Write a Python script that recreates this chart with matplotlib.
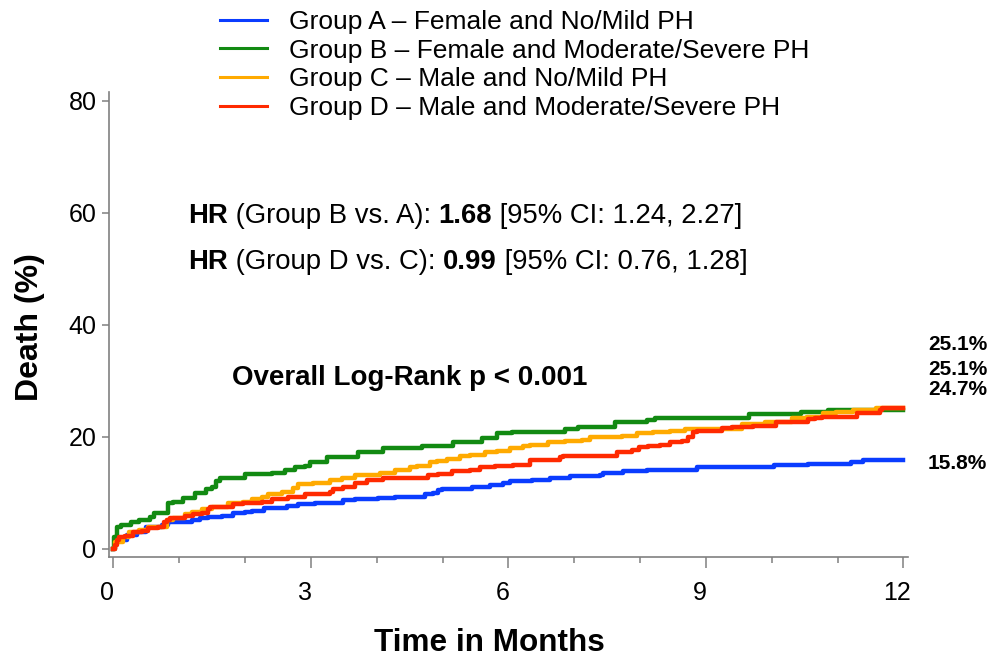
import matplotlib
matplotlib.use("Agg")
from matplotlib import pyplot as plt
from matplotlib import transforms

plt.rcParams['font.family'] = ['Liberation Sans', 'DejaVu Sans']

# cumulative death (%), step "post"
t_a = [0, 0.03, 0.06, 0.2, 0.35, 0.5, 0.74, 0.83, 1.05, 1.20, 1.32, 1.44, 1.65, 1.81, 2.00, 2.11, 2.28,
       2.56, 2.64, 2.81, 3.06, 3.49, 3.67, 4.02, 4.28, 4.73, 4.85, 4.93, 4.99, 5.45, 5.72, 5.92, 6.02,
       6.36, 6.63, 6.93, 7.39, 7.43, 7.74, 8.10, 8.86, 10.04, 10.55, 11.21, 11.38, 12.0]
d_a = [0, 1.0, 1.6, 2.4, 3.0, 3.8, 4.3, 4.7, 4.8, 5.2, 5.4, 5.7, 5.9, 6.3, 6.6, 6.8, 7.2,
       7.3, 7.7, 8.0, 8.2, 8.6, 8.8, 9.1, 9.3, 9.7, 10.0, 10.4, 10.7, 11.1, 11.3, 11.8, 12.0,
       12.3, 12.7, 12.9, 13.2, 13.6, 13.8, 14.1, 14.5, 14.9, 15.2, 15.4, 15.8, 15.8]

t_b = [0, 0.01, 0.06, 0.11, 0.26, 0.38, 0.56, 0.62, 0.83, 0.90, 1.05, 1.24, 1.40, 1.50, 1.55, 1.62,
       2.00, 2.41, 2.61, 2.76, 2.91, 2.99, 3.25, 3.72, 4.10, 4.69, 5.16, 5.60, 5.83, 6.05, 6.86,
       7.05, 7.62, 8.10, 8.22, 9.66, 10.45, 10.85, 12.0]
d_b = [0, 2.1, 3.8, 4.3, 4.7, 5.2, 5.7, 6.4, 8.2, 8.4, 9.0, 10.0, 10.6, 11.1, 12.0, 12.7,
       13.4, 13.6, 14.0, 14.5, 14.7, 15.4, 16.3, 17.2, 17.9, 18.4, 19.1, 19.8, 20.6, 20.9, 21.3,
       21.8, 22.6, 22.9, 23.3, 24.0, 24.4, 24.7, 24.7]

t_c = [0, 0.02, 0.14, 0.23, 0.38, 0.53, 0.82, 0.90, 1.09, 1.20, 1.35, 1.50, 1.74, 1.96, 2.11, 2.26,
       2.35, 2.56, 2.72, 2.81, 3.03, 3.29, 3.47, 3.67, 4.05, 4.28, 4.51, 4.61, 4.81, 4.92, 5.07,
       5.26, 5.42, 5.64, 5.83, 6.02, 6.22, 6.33, 6.60, 6.86, 7.11, 7.24, 7.72, 7.95, 8.19, 8.45,
       8.68, 9.54, 9.89, 10.30, 10.53, 10.77, 10.98, 11.23, 11.59, 12.0]
d_c = [0, 1.2, 2.0, 2.9, 3.4, 3.9, 5.2, 5.5, 6.1, 6.6, 7.0, 7.5, 8.2, 8.4, 8.8, 9.3,
       9.8, 10.2, 10.9, 11.5, 11.8, 12.3, 12.7, 13.2, 13.6, 14.0, 14.5, 14.7, 15.4, 15.6, 16.1,
       16.5, 16.8, 17.2, 17.4, 17.9, 18.3, 18.6, 19.0, 19.2, 19.5, 19.9, 20.2, 20.6, 20.8, 21.0,
       21.3, 22.2, 22.6, 23.3, 23.6, 24.2, 24.4, 24.7, 25.1, 25.1]

t_d = [0, 0.03, 0.06, 0.08, 0.18, 0.29, 0.44, 0.52, 0.68, 0.76, 0.82, 0.86, 1.09, 1.21, 1.35, 1.43,
       1.47, 1.81, 1.96, 2.26, 2.41, 2.65, 2.91, 3.29, 3.34, 3.49, 3.67, 3.85, 4.10, 4.78, 4.93,
       5.14, 5.42, 5.57, 5.80, 6.07, 6.33, 6.52, 6.78, 6.83, 7.65, 7.87, 7.99, 8.12, 8.30, 8.45,
       8.63, 8.72, 8.80, 8.86, 9.25, 9.39, 9.71, 10.07, 10.55, 10.65, 10.76, 11.30, 11.64, 11.68, 12.0]
d_d = [0, 0.7, 1.6, 2.0, 2.2, 2.9, 3.1, 3.6, 3.8, 4.7, 5.2, 5.5, 5.8, 6.1, 6.4, 7.0,
       7.5, 7.9, 8.2, 8.4, 8.9, 9.3, 9.8, 10.2, 10.7, 11.1, 11.8, 12.2, 12.7, 13.1, 13.4,
       13.8, 14.0, 14.5, 14.7, 15.0, 15.8, 15.9, 16.3, 16.5, 17.2, 17.7, 18.1, 18.3, 18.6, 19.0,
       19.2, 19.9, 20.8, 21.1, 21.5, 21.8, 22.0, 22.7, 23.1, 23.4, 23.6, 24.3, 24.7, 25.1, 25.1]

labels = ["Group A \u2013 Female and No/Mild PH",
          "Group B \u2013 Female and Moderate/Severe PH",
          "Group C \u2013 Male and No/Mild PH",
          "Group D \u2013 Male and Moderate/Severe PH"]
colors = ['#0A3CFF', '#128A12', '#FFAA00', '#FF2A00']
end_labels = ["25.1%", "25.1%", "24.7%", "15.8%"]

fig = plt.figure(figsize=(9.99, 6.62), dpi=100)
ax = fig.add_axes([0.109, 0.1586, 0.8, 0.7024])

lines = []
for t, d, c, lab in zip([t_a, t_b, t_c, t_d], [d_a, d_b, d_c, d_d], colors, labels):
    ln, = ax.step(t, d, where='post', color=c, lw=3.2, label=lab)
    lines.append(ln)

ax.set_xlim(-0.07, 12.07)
ax.set_ylim(-1.5, 81.6)
ax.set_xticks([0, 3, 6, 9, 12])
ax.set_xticks(range(13), minor=True)
ax.set_yticks([0, 20, 40, 60, 80])
for s in ['top', 'right']:
    ax.spines[s].set_visible(False)
for s in ['left', 'bottom']:
    ax.spines[s].set_color('#808080')
    ax.spines[s].set_linewidth(1.2)
ax.tick_params(axis='both', which='both', color='#808080', labelsize=18, width=1.1)
ax.tick_params(axis='x', which='major', length=8, pad=9)
ax.tick_params(axis='x', which='minor', length=4)
ax.tick_params(axis='y', which='major', length=5, pad=4)

# x tick labels sit a bit left of their ticks in the original
shift = transforms.ScaledTranslation(-6 / 100, 0, fig.dpi_scale_trans)
for lbl in ax.get_xticklabels():
    lbl.set_transform(lbl.get_transform() + shift)

ax.set_xlabel("Time in Months", fontsize=22.7, fontweight='bold')
ax.xaxis.set_label_coords(0.476, -0.153)
ax.set_ylabel("Death (%)", fontsize=23, fontweight='bold')
ax.yaxis.set_label_coords(-0.080, 0.495)

# HR annotations with mixed weights
def rich_line(y, parts):
    prev = None
    for txt, w in parts:
        if prev is None:
            prev = ax.text(0.099, y, txt, transform=ax.transAxes, fontsize=19.8,
                           fontweight=w, va='center', ha='left')
        else:
            prev = ax.annotate(txt, xy=(1, 0), xycoords=prev, fontsize=19.8,
                               fontweight=w, va='bottom', ha='left')

rich_line(0.733, [("HR", 'bold'), (" (Group B vs. A): ", 'normal'), ("1.68", 'bold'),
                  (" [95% CI: 1.24, 2.27]", 'normal')])
rich_line(0.634, [("HR", 'bold'), (" (Group D vs. C): ", 'normal'), ("0.99", 'bold'),
                  (" [95% CI: 0.76, 1.28]", 'normal')])

ax.text(0.154, 0.385, "Overall Log-Rank p < 0.001", transform=ax.transAxes, fontsize=20,
        fontweight='bold', va='center', ha='left')

for lab, y in zip(end_labels, [0.456, 0.404, 0.361, 0.202]):
    ax.text(1.025, y, lab, transform=ax.transAxes, fontsize=15, fontweight='bold',
            va='center', ha='left', clip_on=False)

leg = fig.legend(handles=lines, labels=labels, loc='upper left', bbox_to_anchor=(0.22, 0.985),
                 frameon=False, fontsize=19, handlelength=1.8, handletextpad=0.83,
                 labelspacing=0.18, borderpad=0, borderaxespad=0)
for h in leg.legend_handles:
    h.set_linewidth(2.2)

fig.savefig("out.png", dpi=100)
